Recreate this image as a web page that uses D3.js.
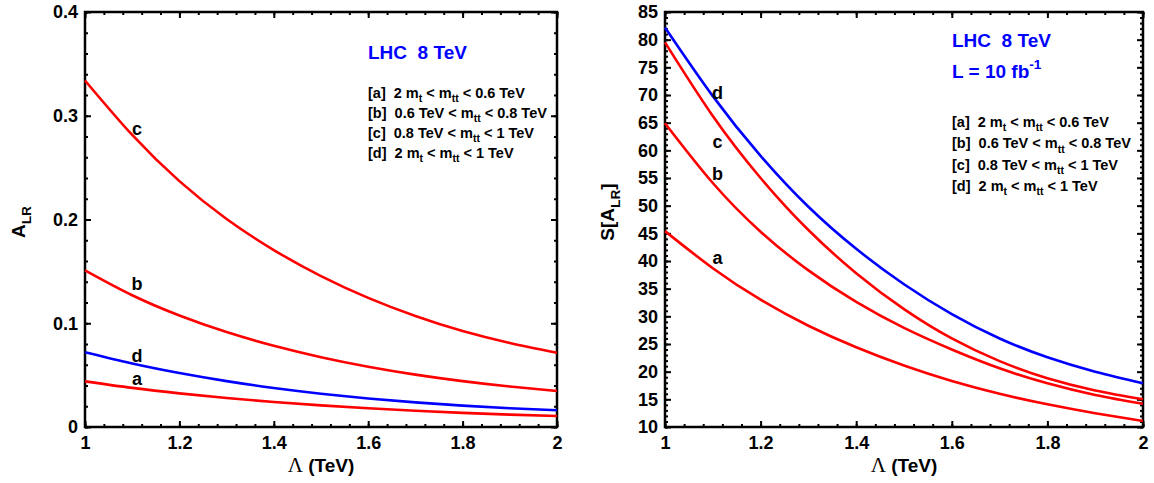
<!DOCTYPE html>
<html>
<head>
<meta charset="utf-8">
<script src="https://cdn.jsdelivr.net/npm/d3@7"></script>
<style>
  body { margin: 0; background: #fff; }
  svg text { font-family: "Liberation Sans", Arial, sans-serif; font-weight: bold; white-space: pre; }
</style>
</head>
<body>
<script>
// valores
var lambda = [1.0, 1.1, 1.2, 1.3, 1.4, 1.5, 1.6, 1.7, 1.8, 1.9, 2.0]

// panel izquierdo: A_LR
var alrA = [0.044, 0.0377, 0.0324, 0.0279, 0.0241, 0.0208, 0.018, 0.0156, 0.0136, 0.0119, 0.0106]
var alrB = [0.151, 0.127, 0.1075, 0.0915, 0.0783, 0.0673, 0.0581, 0.0505, 0.0442, 0.039, 0.0347]
var alrC = [0.334, 0.2815, 0.237, 0.2005, 0.1705, 0.1455, 0.1245, 0.107, 0.0925, 0.081, 0.0715]
var alrD = [0.072, 0.0612, 0.052, 0.0442, 0.0376, 0.0321, 0.0275, 0.0237, 0.0206, 0.0181, 0.0162]

// panel derecho: S[A_LR]
var sigA = [45.4, 38.7, 33.0, 28.3, 24.4, 21.1, 18.3, 16.0, 14.1, 12.5, 11.1]
var sigB = [64.9, 54.1, 45.3, 38.3, 32.6, 27.9, 24.0, 20.6, 17.9, 15.8, 14.2]
var sigC = [79.5, 66.2, 55.0, 45.6, 37.8, 31.3, 26.0, 21.9, 18.8, 16.6, 15.0]
var sigD = [82.2, 69.8, 59.0, 49.8, 42.2, 35.8, 30.4, 26.0, 22.6, 20.0, 17.9]

var xTicks = [1, 1.2, 1.4, 1.6, 1.8, 2]
var alrTicks = [0, 0.1, 0.2, 0.3, 0.4]
var sigTicks = d3.range(10, 86, 5)

var curveNames = ["a", "b", "c", "d"]
var curveColors = ["#ff0000", "#ff0000", "#ff0000", "#0000ff"]

// etiquetas de curvas (en coordenadas de datos)
var alrLabelAt = [[1.11, 0.0463], [1.11, 0.138], [1.11, 0.288], [1.11, 0.0684]]
var sigLabelAt = [[1.11, 40.6], [1.11, 55.8], [1.11, 61.6], [1.11, 70.4]]

var legendRows = [
  [["[a]  2 m"], ["t", 1], [" < m"], ["tt", 1], [" < 0.6 TeV"]],
  [["[b]  0.6 TeV < m"], ["tt", 1], [" < 0.8 TeV"]],
  [["[c]  0.8 TeV < m"], ["tt", 1], [" < 1 TeV"]],
  [["[d]  2 m"], ["t", 1], [" < m"], ["tt", 1], [" < 1 TeV"]]
]

var svg = d3.select("body")
  .append("svg")
  .attr("width", 1154)
  .attr("height", 483)

// escribe texto con subindices / superindices
function richText(sel, parts, size) {
  var shift = 0
  parts.forEach(function (p) {
    var kind = p[1] || 0
    var target = kind == 1 ? size * 0.3 : (kind == 2 ? -size * 0.45 : 0)
    sel.append("tspan")
      .attr("dy", target - shift)
      .style("font-size", kind ? (size * 0.72) + "px" : size + "px")
      .text(p[0])
    shift = target
  })
}

function drawPanel(cfg) {
  var g = svg.append("g")
  var x = d3.scaleLinear().domain([1, 2]).range([cfg.left, cfg.right])
  var y = d3.scaleLinear().domain(cfg.yDomain).range([427, 12])

  // ejes con marcas hacia dentro en los 4 lados
  var fmt = d3.format("")
  g.append("g").attr("transform", "translate(0,427)")
    .call(d3.axisBottom(x).tickValues(d3.range(1, 2.001, 0.04)).tickSize(-3).tickFormat(""))
  g.append("g").attr("transform", "translate(0,12)")
    .call(d3.axisTop(x).tickValues(d3.range(1, 2.001, 0.04)).tickSize(-3).tickFormat(""))
  g.append("g").attr("transform", "translate(0,427)")
    .call(d3.axisBottom(x).tickValues(xTicks).tickSize(-6).tickPadding(9).tickFormat(fmt))
  g.append("g").attr("transform", "translate(0,12)")
    .call(d3.axisTop(x).tickValues(xTicks).tickSize(-6).tickFormat(""))

  g.append("g").attr("transform", "translate(" + cfg.left + ",0)")
    .call(d3.axisLeft(y).tickValues(cfg.yMinor).tickSize(-3).tickFormat(""))
  g.append("g").attr("transform", "translate(" + cfg.right + ",0)")
    .call(d3.axisRight(y).tickValues(cfg.yMinor).tickSize(-3).tickFormat(""))
  g.append("g").attr("transform", "translate(" + cfg.left + ",0)")
    .call(d3.axisLeft(y).tickValues(cfg.yTicks).tickSize(-6).tickPadding(7).tickFormat(fmt))
  g.append("g").attr("transform", "translate(" + cfg.right + ",0)")
    .call(d3.axisRight(y).tickValues(cfg.yTicks).tickSize(-6).tickFormat(""))

  g.selectAll(".domain").remove()
  g.selectAll(".tick line").attr("stroke", "#000").attr("stroke-width", 2)
  g.selectAll(".tick text")
    .attr("fill", "#000")
    .style("font-size", "18px")
    .style("font-family", "'Liberation Sans', Arial, sans-serif")
    .style("font-weight", "bold")

  // marco
  g.append("rect")
    .attr("x", cfg.left).attr("y", 12)
    .attr("width", cfg.right - cfg.left).attr("height", 415)
    .attr("fill", "none").attr("stroke", "#000").attr("stroke-width", 2.5)

  // curvas
  var line = d3.line()
    .x(function (d, i) { return x(lambda[i]) })
    .y(function (d) { return y(d) })
    .curve(d3.curveNatural)

  g.append("g")
    .selectAll("path")
    .data(cfg.series)
    .enter()
    .append("path")
    .attr("d", line)
    .attr("fill", "none")
    .attr("stroke", function (d, i) { return curveColors[i] })
    .attr("stroke-width", 2.6)

  g.append("g")
    .selectAll("text")
    .data(cfg.labelAt)
    .enter()
    .append("text")
    .attr("x", function (d) { return x(d[0]) })
    .attr("y", function (d) { return y(d[1]) })
    .attr("text-anchor", "middle")
    .attr("dy", "0.35em")
    .style("font-size", "18px")
    .text(function (d, i) { return curveNames[i] })

  // titulo eje x
  var xt = g.append("text")
    .attr("x", (cfg.left + cfg.right) / 2)
    .attr("y", 472)
    .attr("text-anchor", "middle")
  xt.append("tspan").style("font-family", "'Liberation Serif', serif").style("font-weight", "normal").style("font-size", "21px").text("\u039b")
  xt.append("tspan").style("font-size", "19px").text(" (TeV)")

  // titulo eje y
  var yt = g.append("text")
    .attr("transform", "translate(" + cfg.yTitleX + "," + cfg.yTitleY + ") rotate(-90)")
    .attr("text-anchor", "middle")
  richText(yt, cfg.yTitle, 19)

  // leyenda
  cfg.heads.forEach(function (h, i) {
    var t = g.append("text").attr("x", cfg.legX).attr("y", h.y).attr("fill", "#0000ff")
    richText(t, h.parts, 19)
  })
  legendRows.forEach(function (row, i) {
    var t = g.append("text").attr("x", cfg.legX).attr("y", cfg.rowY + i * cfg.rowGap).attr("fill", "#000")
    richText(t, row, 14.5)
  })
}

drawPanel({
  left: 85, right: 557,
  yDomain: [0, 0.4],
  yTicks: alrTicks,
  yMinor: d3.range(0, 0.401, 0.02),
  series: [alrA, alrB, alrC, alrD],
  labelAt: alrLabelAt,
  yTitle: [["A"], ["LR", 1]],
  yTitleX: 25, yTitleY: 222,
  legX: 368,
  heads: [{ y: 59, parts: [["LHC  8 TeV"]] }],
  rowY: 98, rowGap: 20
})

drawPanel({
  left: 665, right: 1143,
  yDomain: [10, 85],
  yTicks: sigTicks,
  yMinor: d3.range(10, 85.01, 1),
  series: [sigA, sigB, sigC, sigD],
  labelAt: sigLabelAt,
  yTitle: [["S[A"], ["LR", 1], ["]"]],
  yTitleX: 614, yTitleY: 212,
  legX: 952,
  heads: [{ y: 47, parts: [["LHC  8 TeV"]] }, { y: 78, parts: [["L = 10 fb"], ["-1", 2]] }],
  rowY: 127, rowGap: 21.3
})
</script>
</body>
</html>
